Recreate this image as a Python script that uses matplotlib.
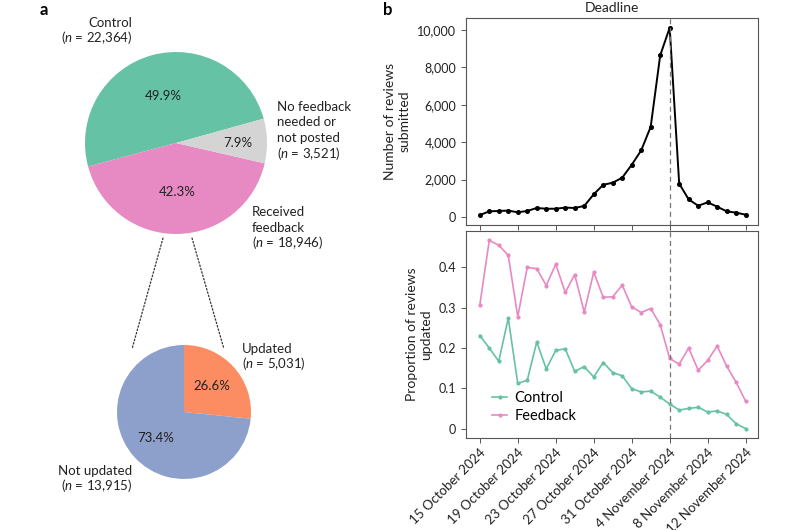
import numpy as np
import pandas as pd
import matplotlib
matplotlib.use("Agg")
import matplotlib.pyplot as plt
from matplotlib.patches import ConnectionPatch

plt.rcParams['font.family'] = ['Lato', 'DejaVu Sans']
plt.rcParams['mathtext.fontset'] = 'custom'
plt.rcParams['mathtext.it'] = 'Lato:italic'
plt.rcParams['mathtext.rm'] = 'Lato'

# ---- data ----
# panel a
split_labels = ["Control", "Received feedback", "No feedback needed or not posted"]
split_pct = [49.9, 42.3, 7.9]
split_colors = ["#66c2a5", "#e78ac3", "#d4d4d4"]

update_labels = ["Updated", "Not updated"]
update_pct = [26.6, 73.4]
update_colors = ["#fc8d62", "#8da0cb"]

# panel b
dates = pd.date_range("2024-10-15", "2024-11-12", freq="D")
deadline = pd.Timestamp("2024-11-04")
reviews_submitted = [100, 300, 320, 340, 250, 320, 480, 440, 440, 500, 480, 590,
                     1210, 1720, 1830, 2100, 2790, 3560, 4820, 8640, 10120,
                     1780, 940, 600, 780, 550, 300, 230, 120]
prop_control = [0.231, 0.200, 0.167, 0.274, 0.112, 0.120, 0.215, 0.148, 0.194,
                0.198, 0.142, 0.154, 0.128, 0.164, 0.139, 0.131, 0.099, 0.091,
                0.093, 0.078, 0.061, 0.046, 0.050, 0.053, 0.041, 0.044, 0.035,
                0.012, 0.000]
prop_feedback = [0.306, 0.467, 0.455, 0.430, 0.278, 0.400, 0.397, 0.355, 0.408,
                 0.338, 0.382, 0.289, 0.388, 0.326, 0.327, 0.356, 0.302, 0.288,
                 0.298, 0.258, 0.174, 0.160, 0.200, 0.145, 0.169, 0.205, 0.155,
                 0.115, 0.068]

txt = '#222222'
spine_c = '#555555'

fig = plt.figure(figsize=(8, 5.3), dpi=100)
W, H = 800, 530

def px_axes(x0, y0, x1, y1):
    return fig.add_axes([x0 / W, 1 - y1 / H, (x1 - x0) / W, (y1 - y0) / H])

def px_lines(x, y_first, lines, ha, step=15.5):
    # one text per line so the italic n does not upset the spacing
    for i, s in enumerate(lines):
        fig.text(x / W, 1 - (y_first + i * step + 4) / H, s, ha=ha,
                 va='baseline', fontsize=9.5, color=txt)

# ---- panel a: pies ----
ax_big = px_axes(176 - 91, 143 - 91, 176 + 91, 143 + 91)
wedges, _, pcts = ax_big.pie(split_pct, colors=split_colors, startangle=15.5,
                             counterclock=True, autopct='%.1f%%', pctdistance=0.54,
                             textprops=dict(fontsize=9.5, color=txt))
pcts[2].set_position((0.68, 0.0))
ax_big.set_xlim(-1, 1)
ax_big.set_ylim(-1, 1)

ax_small = px_axes(184 - 67, 412 - 67, 184 + 67, 412 + 67)
wedges2, _, pcts2 = ax_small.pie(update_pct, colors=update_colors, startangle=90,
                                 counterclock=False, autopct='%.1f%%', pctdistance=0.57,
                                 textprops=dict(fontsize=9.5, color=txt))
ax_small.set_xlim(-1, 1)
ax_small.set_ylim(-1, 1)

# dotted connectors between the pies
for xa, xb in [(-0.143, -0.776), (0.176, 0.597)]:
    con = ConnectionPatch(xyA=(xa, -1.045), coordsA=ax_big.transData,
                          xyB=(xb, 0.94), coordsB=ax_small.transData,
                          linestyle=(0, (1.2, 1.6)), color='#333333', lw=0.9)
    fig.add_artist(con)

nlab = "($\\mathit{n}$ = %s)"
px_lines(132, 23, ["Control", nlab % "22,364"], 'right')
px_lines(277, 107, ["No feedback", "needed or", "not posted", nlab % "3,521"], 'left')
px_lines(252, 212, ["Received", "feedback", nlab % "18,946"], 'left')
px_lines(242, 349, ["Updated", nlab % "5,031"], 'left')
px_lines(132, 471, ["Not updated", nlab % "13,915"], 'right')

fig.text(40 / W, 1 - 2 / H, "a", fontsize=12, fontweight='bold', va='top')
fig.text(383 / W, 1 - 2 / H, "b", fontsize=12, fontweight='bold', va='top')

# ---- panel b: lines ----
ax1 = px_axes(466, 18, 758, 225)
ax2 = px_axes(466, 231, 758, 438)

ax1.plot(dates, reviews_submitted, color='black', lw=1.4, marker='o', ms=2.6)
ax1.axvline(deadline, color='#777777', ls=(0, (4, 3)), lw=0.9)
ax1.set_ylim(-430, 10640)
ax1.set_yticks([0, 2000, 4000, 6000, 8000, 10000])
ax1.yaxis.set_major_formatter(matplotlib.ticker.FuncFormatter(lambda v, p: f"{int(v):,}"))
ax1.set_ylabel("Number of reviews\nsubmitted", fontsize=10, color=txt, labelpad=5)
ax1.set_title("Deadline", fontsize=10, color=txt, pad=4)

ax2.plot(dates, prop_control, color='#66c2a5', lw=1.2, marker='o', ms=2, label='Control')
ax2.plot(dates, prop_feedback, color='#e78ac3', lw=1.2, marker='o', ms=2, label='Feedback')
ax2.axvline(deadline, color='#777777', ls=(0, (4, 3)), lw=0.9)
ax2.set_yticks([0, 0.1, 0.2, 0.3, 0.4])
ax2.yaxis.set_major_formatter(matplotlib.ticker.FuncFormatter(lambda v, p: f"{v:g}"))
ax2.set_ylabel("Proportion of reviews\nupdated", fontsize=10, color=txt, labelpad=5)
ax2.legend(loc='lower left', frameon=False, fontsize=10.5, handlelength=1.0,
           handletextpad=0.5, labelspacing=0.3, borderaxespad=0.6,
           bbox_to_anchor=(0.04, 0.0))

tick_dates = pd.date_range("2024-10-15", "2024-11-12", freq="4D")
for ax in (ax1, ax2):
    ax.set_xlim(dates[0] - pd.Timedelta(days=1.45), dates[-1] + pd.Timedelta(days=1.3))
    ax.set_xticks(tick_dates)
    for s in ax.spines.values():
        s.set_color(spine_c)
        s.set_linewidth(0.8)
    ax.tick_params(labelsize=9, colors=spine_c, labelcolor=txt, length=3.5, width=0.7)

ax1.tick_params(axis='x', labelbottom=False)
ax2.tick_params(axis='x', pad=2.5)
ax2.set_xticklabels([f"{d.day} {d:%B %Y}" for d in tick_dates])
for t in ax2.get_xticklabels():
    t.set_rotation(45)
    t.set_ha('right')
    t.set_va('top')
    t.set_rotation_mode('anchor')
    t.set_fontsize(9.5)

fig.savefig("out.png", dpi=100)
